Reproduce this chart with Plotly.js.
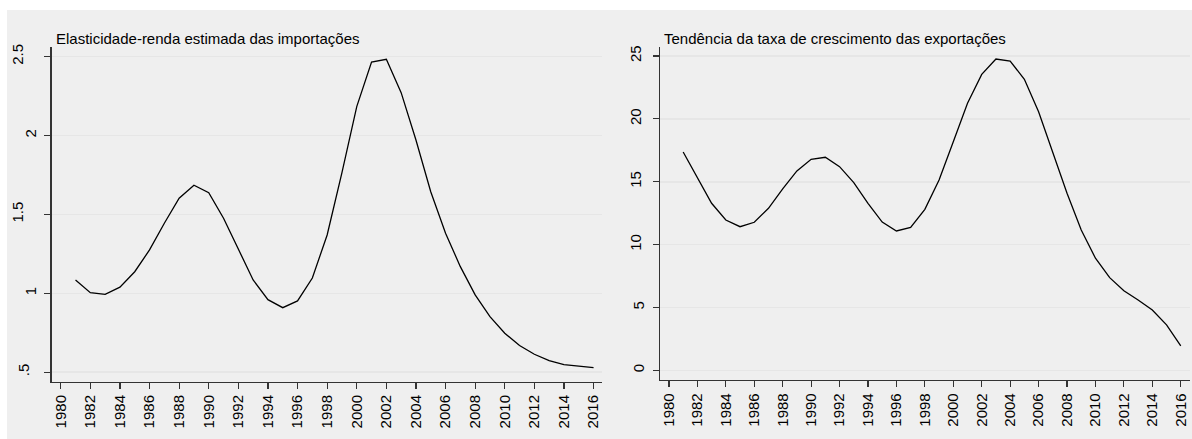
<!DOCTYPE html>
<html>
<head>
<meta charset="utf-8">
<script src="https://cdn.plot.ly/plotly-3.0.1.min.js"></script>
<style>html,body{margin:0;padding:0;background:#fff;}#chart{width:1192px;height:439px;}</style>
</head>
<body>
<div id="chart"></div>
<script>
// ---- data ----
const years = [1981,1982,1983,1984,1985,1986,1987,1988,1989,1990,1991,1992,1993,1994,1995,1996,1997,1998,1999,2000,2001,2002,2003,2004,2005,2006,2007,2008,2009,2010,2011,2012,2013,2014,2015,2016];
const elasticidade = [1.085,1.004,0.994,1.039,1.137,1.275,1.444,1.603,1.685,1.638,1.476,1.275,1.085,0.960,0.909,0.952,1.097,1.370,1.765,2.183,2.466,2.483,2.272,1.972,1.644,1.381,1.169,0.990,0.852,0.747,0.669,0.614,0.573,0.548,0.538,0.529];
const exportacoes = [17.37,15.28,13.29,11.96,11.43,11.78,12.89,14.43,15.86,16.79,16.95,16.20,14.93,13.29,11.80,11.09,11.38,12.81,15.14,18.19,21.24,23.54,24.76,24.60,23.15,20.57,17.39,14.09,11.17,8.92,7.38,6.34,5.60,4.81,3.62,1.95];
const xTicks = [1980,1982,1984,1986,1988,1990,1992,1994,1996,1998,2000,2002,2004,2006,2008,2010,2012,2014,2016];
const leftTickVals = [0.5,1,1.5,2,2.5];
const leftTickText = ['.5','1','1.5','2','2.5'];
const rightTickVals = [0,5,10,15,20,25];
const rightTickText = ['0','5','10','15','20','25'];
const titleLeft = 'Elasticidade-renda estimada das importações';
const titleRight = 'Tendência da taxa de crescimento das exportações';

// ---- styling ----
const FONT = 'Arial, "Liberation Sans", sans-serif';
const W = 1192, H = 439;
const tickFont = {family: FONT, size: 15, color: '#000'};
const gridColor = '#e6e6e6';
const axisColor = '#333';

function pick(texts, pred){ return texts.map(t => pred(t) ? t : ''); }

const xCommon = {
  tickmode: 'array', tickvals: xTicks, ticktext: xTicks.map(String),
  tickangle: -90, ticks: 'outside', ticklen: 6, tickwidth: 1.2, tickcolor: axisColor,
  showline: true, linecolor: axisColor, linewidth: 1.3, showgrid: false, zeroline: false,
  tickfont: tickFont, automargin: false, fixedrange: true
};
const yCommon = {
  tickmode: 'array', tickangle: -90, ticks: 'outside', ticklen: 6, tickwidth: 1.2, tickcolor: axisColor,
  showline: true, linecolor: axisColor, linewidth: 1.3, showgrid: true, gridcolor: gridColor, gridwidth: 1.6,
  zeroline: false, tickfont: tickFont, automargin: false, fixedrange: true
};
const yOverlay = {
  tickmode: 'array', tickangle: -90, ticks: '', showline: false, showgrid: false, zeroline: false,
  tickfont: tickFont, automargin: false, fixedrange: true, side: 'left'
};

const LR = [0.440, 2.563], RR = [-0.76, 25.74];

const layout = {
  width: W, height: H,
  margin: {l:0, r:0, t:0, b:0, pad:0},
  paper_bgcolor: '#ffffff', plot_bgcolor: '#ffffff',
  showlegend: false,
  xaxis: Object.assign({}, xCommon, {domain: [51.7/W, 602/W], range: [1979.39, 2016.57], anchor: 'y'}),
  yaxis: Object.assign({}, yCommon, {domain: [1-381.7/H, 1-46.7/H], range: LR, anchor: 'x',
          tickvals: leftTickVals, ticktext: pick(leftTickText, t => t.length === 1), ticklabelstandoff: 2}),
  yaxis3: Object.assign({}, yOverlay, {overlaying: 'y', anchor: 'x', range: LR,
          tickvals: leftTickVals, ticktext: pick(leftTickText, t => t.length === 3), ticklabelstandoff: 25}),
  yaxis5: Object.assign({}, yOverlay, {overlaying: 'y', anchor: 'x', range: LR,
          tickvals: leftTickVals, ticktext: pick(leftTickText, t => t.length === 2), ticklabelstandoff: 19}),
  xaxis2: Object.assign({}, xCommon, {domain: [660/W, 1190/W], range: [1979.37, 2016.65], anchor: 'y2'}),
  yaxis2: Object.assign({}, yCommon, {domain: [1-380/H, 1-46.7/H], range: RR, anchor: 'x2',
          tickvals: rightTickVals, ticktext: pick(rightTickText, t => t.length === 1), ticklabelstandoff: 3}),
  yaxis4: Object.assign({}, yOverlay, {overlaying: 'y2', anchor: 'x2', range: RR,
          tickvals: rightTickVals, ticktext: pick(rightTickText, t => t.length !== 1), ticklabelstandoff: 15}),
  shapes: [
    {type:'rect', xref:'paper', yref:'paper', x0: 7/W, x1: 1, y0: 0, y1: 1-10/H,
     fillcolor:'#efefef', line:{width:0}, layer:'below'}
  ],
  annotations: [
    {text: titleLeft, xref:'paper', yref:'paper', x: 54/W, y: 1-38/H, xanchor:'left', yanchor:'middle',
     showarrow:false, font:{family: FONT, size: 15, color:'#000'}},
    {text: titleRight, xref:'paper', yref:'paper', x: 662/W, y: 1-38/H, xanchor:'left', yanchor:'middle',
     showarrow:false, font:{family: FONT, size: 15, color:'#000'}}
  ]
};

const data = [
  {x: years, y: elasticidade, type:'scatter', mode:'lines', xaxis:'x', yaxis:'y',
   line:{color:'#000', width:1.3}, hoverinfo:'skip'},
  {x: years, y: exportacoes, type:'scatter', mode:'lines', xaxis:'x2', yaxis:'y2',
   line:{color:'#000', width:1.3}, hoverinfo:'skip'},
  // invisible carriers so the overlay label axes get a subplot
  {x: years, y: elasticidade, type:'scatter', mode:'lines', xaxis:'x', yaxis:'y3',
   line:{color:'rgba(0,0,0,0)', width:0}, opacity:0, hoverinfo:'skip'},
  {x: years, y: elasticidade, type:'scatter', mode:'lines', xaxis:'x', yaxis:'y5',
   line:{color:'rgba(0,0,0,0)', width:0}, opacity:0, hoverinfo:'skip'},
  {x: years, y: exportacoes, type:'scatter', mode:'lines', xaxis:'x2', yaxis:'y4',
   line:{color:'rgba(0,0,0,0)', width:0}, opacity:0, hoverinfo:'skip'}
];

Plotly.newPlot('chart', data, layout, {displayModeBar:false, staticPlot:true});
</script>
</body>
</html>
